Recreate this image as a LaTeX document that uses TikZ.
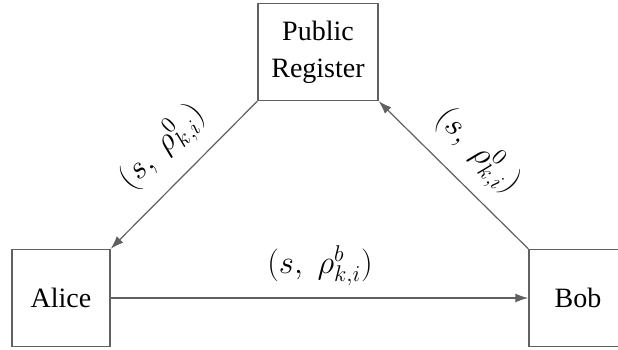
\documentclass[tikz,border=0pt]{standalone}
\usepackage{fontspec}
\usepackage{graphicx}
\setmainfont{Liberation Serif}
\usetikzlibrary{arrows.meta}
\newcommand{\lblscale}[1]{\scalebox{1.58}{#1}}
\begin{document}
\begin{tikzpicture}[x=1pt,y=-1pt,
  box/.style={draw=black!62,line width=1.4pt,minimum width=98pt,minimum height=97pt,inner sep=0pt,align=center,font=\fontsize{28}{37}\selectfont},
  conn/.style={draw=black!62,line width=1.2pt,-{Latex[length=13pt,width=9pt]}},
  lbl/.style={font=\fontsize{20.74}{24}\selectfont,inner sep=0pt}]
\useasboundingbox (0,0) rectangle (618,350);
\fill[white] (0,0) rectangle (618,350);
\node[box,minimum width=120pt] (pr) at (318,52) {Public\\Register};
\node[box] (alice) at (61,298) {Alice};
\node[box] (bob) at (578,298) {Bob};
\draw[conn] (pr.south west) -- (alice.north east);
\draw[conn] (bob.north west) -- (pr.south east);
\draw[conn] (alice.east) -- (bob.west);
\node[lbl,rotate=45] (l1) at (163,148) {\lblscale{$\Bigl(s,\;\rho^{0}_{k,i}\Bigr)$}};
\node[lbl,rotate=-45] (l2) at (477,152) {\lblscale{$\Bigl(s,\;\rho^{0}_{k,i}\Bigr)$}};
\node[lbl] (l3) at (320,266) {\lblscale{$\Bigl(s,\;\rho^{b}_{k,i}\Bigr)$}};
\end{tikzpicture}
\end{document}
